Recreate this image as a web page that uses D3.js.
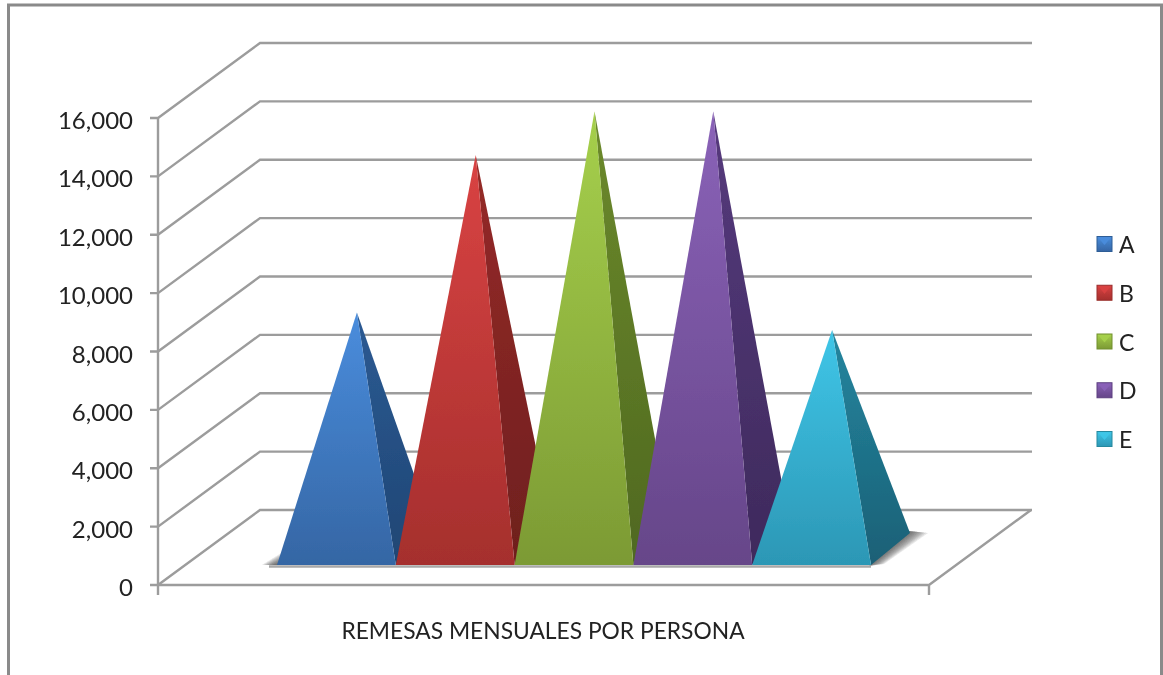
<!DOCTYPE html>
<html><head><meta charset="utf-8">
<script src="https://cdn.jsdelivr.net/npm/d3@7/dist/d3.min.js"></script>
<style>html,body{margin:0;padding:0;background:#fff;overflow:hidden}svg{display:block}text{font-family:Lato,"Open Sans",sans-serif;fill:#222}</style>
</head><body>
<script>
const categories = ["A","B","C","D","E"];
const values = [8100,13500,15000,15000,7500];
const tickValues = [0,2000,4000,6000,8000,10000,12000,14000,16000];
const axisTitle = "REMESAS MENSUALES POR PERSONA";
const faceTop = ["#4a8ddd","#d94343","#a6d04c","#8a62b8","#3fc6e8"];
const faceBottom = ["#3566a4","#a52f2d","#7c9a34","#664689","#2c97b5"];
const sideTop = ["#2c5a93","#962a28","#6c8a2c","#563a7d","#24869f"];
const sideBottom = ["#1f4674","#6e1f1e","#4f6820","#3e2a5c","#1a6076"];
const legendEdge = ["#2f5d96","#9a2e2c","#71902f","#5c3f80","#27899f"];

const W=1163,H=675;
const svg=d3.select("body").append("svg").attr("width",W).attr("height",H);
const defs=svg.append("defs");
defs.append("filter").attr("id","soft").attr("filterUnits","userSpaceOnUse").attr("x",0).attr("y",0).attr("width",W).attr("height",H)
  .append("feGaussianBlur").attr("stdDeviation",0.55);

const y=d3.scaleLinear().domain([0,16000]).range([585,118]);
const x=d3.scaleBand().domain(categories).range([277,871]).padding(0);
const backDx=102, backDy=-75, xEnd=929;      // wall depth
const barDx=39, barDy=-32, baseLift=20;      // bar depth
const x0=158;

// outer frame
svg.append("path").attr("d","M8.5,680V5H1161.5V680").attr("fill","none").attr("stroke","#8a8a8a").attr("stroke-width",3);

const grid=svg.append("g").attr("filter","url(#soft)").attr("fill","none").attr("stroke","#9c9c9c").attr("stroke-width",2.4);
tickValues.forEach(t=>{
  const p=d3.path();
  p.moveTo(150,y(t)); p.lineTo(x0,y(t)); p.lineTo(x0+backDx,y(t)+backDy); p.lineTo(1032,y(t)+backDy);
  grid.append("path").attr("d",p.toString());
});
// axis verticals, floor
grid.append("line").attr("x1",x0).attr("x2",x0).attr("y1",y(16000)).attr("y2",595);
grid.append("path").attr("d",`M${x0},${y(0)}H${xEnd}V595M${xEnd},${y(0)}L${xEnd+backDx},${y(0)+backDy}`);

// soft shadows, built from stacked translucent wedges
const base=y(0)-baseLift;
const bw=x.bandwidth();
const xL=x("A"), xR=x("E")+bw;
const g=svg.append("g").attr("filter","url(#soft)");
d3.range(1,11).forEach(k=>{
  const f=k/10;
  g.append("path").attr("fill","#333").attr("opacity",0.13)
    .attr("d",`M${xL-15*f},${base}L${xL+6},${base-13*f}L${xL+6},${base}Z`);
  g.append("path").attr("fill","#444").attr("opacity",0.12)
    .attr("d",`M${xR-2},${base+1}L${xR+barDx-2},${base+barDy-2}L${xR+barDx+18*f},${base+barDy-2+2*f}L${xR+13*f},${base-1}Z`);
});
g.append("line").attr("x1",xL-8).attr("x2",xR).attr("y1",base+1.5).attr("y2",base+1.5).attr("stroke","#a8a8a8").attr("stroke-width",2.4);

categories.forEach((c,i)=>{
  const l=x(c), r=l+bw;
  const ax=l+bw/2+barDx/2+1;
  const ay=base+barDy/2-(y(0)-y(values[i]));
  const gf=defs.append("linearGradient").attr("id","f"+i).attr("gradientUnits","userSpaceOnUse").attr("x1",0).attr("x2",0).attr("y1",ay).attr("y2",base);
  gf.append("stop").attr("offset",0).attr("stop-color",faceTop[i]);
  gf.append("stop").attr("offset",1).attr("stop-color",faceBottom[i]);
  const gs=defs.append("linearGradient").attr("id","s"+i).attr("gradientUnits","userSpaceOnUse").attr("x1",0).attr("x2",0).attr("y1",ay).attr("y2",base);
  gs.append("stop").attr("offset",0).attr("stop-color",sideTop[i]);
  gs.append("stop").attr("offset",1).attr("stop-color",sideBottom[i]);
  g.append("path").attr("d",`M${ax},${ay}L${r},${base}L${r+barDx},${base+barDy}Z`).attr("fill",`url(#s${i})`);
  g.append("path").attr("d",`M${ax},${ay}L${l},${base}L${r},${base}Z`).attr("fill",`url(#f${i})`);
});

// tick labels
const fmt=d3.format(",");
const labels=svg.append("g").attr("filter","url(#soft)");
tickValues.forEach(t=>{
  labels.append("text").attr("x",133).attr("y",y(t)+11).attr("text-anchor","end").attr("font-size",24).text(fmt(t));
});
labels.append("text").attr("x",543).attr("y",638.5).attr("text-anchor","middle").attr("font-size",22.8).text(axisTitle);

// legend
const ly=d3.scalePoint().domain(categories).range([244,439]);
categories.forEach((c,i)=>{
  const yy=ly(c), s=15, xx=1097;
  const gl=defs.append("linearGradient").attr("id","l"+i).attr("x1",0).attr("x2",0).attr("y1",0).attr("y2",1);
  gl.append("stop").attr("offset",0).attr("stop-color",faceTop[i]);
  gl.append("stop").attr("offset",1).attr("stop-color",faceBottom[i]);
  labels.append("rect").attr("x",xx).attr("y",yy-s/2).attr("width",s).attr("height",s).attr("fill",`url(#l${i})`).attr("stroke",legendEdge[i]).attr("stroke-width",1);
  labels.append("path").attr("d",`M${xx+1},${yy-s/2+1}H${xx+s-1}L${xx+s/2},${yy+1}Z`).attr("fill",faceTop[i]).attr("opacity",0.9);
  labels.append("text").attr("x",1119).attr("y",yy+9).attr("font-size",23).text(c);
});
</script>
</body></html>
